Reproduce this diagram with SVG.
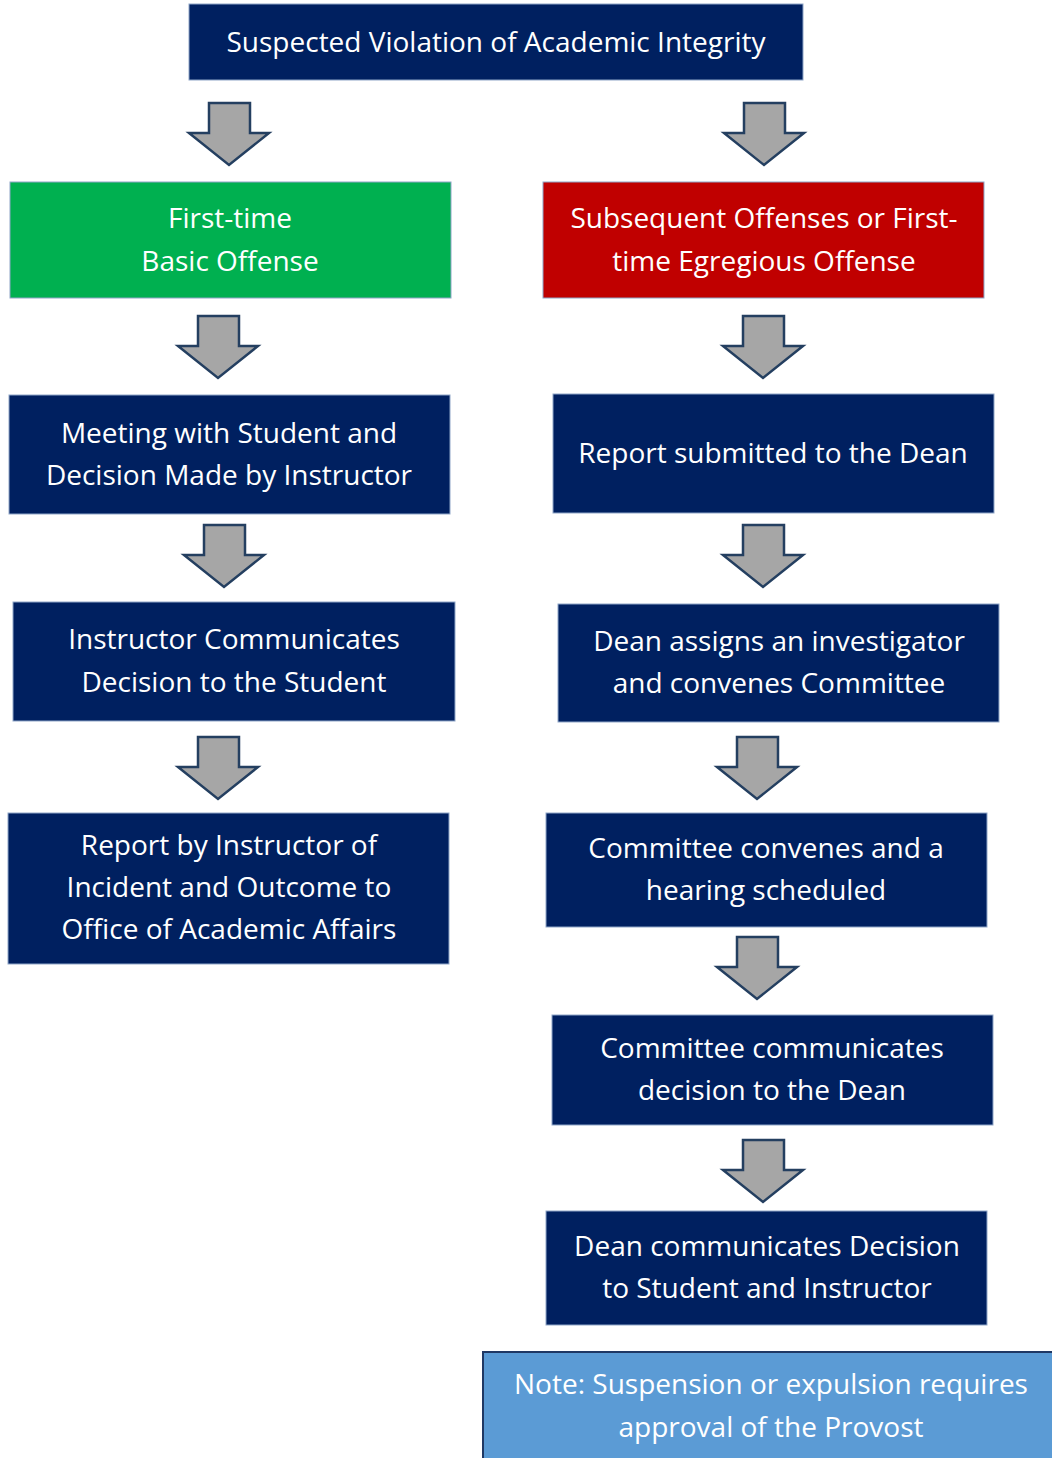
<svg xmlns="http://www.w3.org/2000/svg" width="1052" height="1458" viewBox="0 0 1052 1458">
<defs>
<style>
.box{stroke:#8FA6C8;stroke-width:1}
.navy{fill:#002060}
.green{fill:#00B050}
.red{fill:#C00000}
.note{fill:#5B9BD5;stroke:#1F3864;stroke-width:2}
text{font-family:"Open Sans","Noto Sans","Liberation Sans",sans-serif;font-size:28px;fill:#FFFFFF;text-anchor:middle}
.arrow{fill:#A6A6A6;stroke:#243F60;stroke-width:2.5;stroke-linejoin:miter}
</style>
<path id="arr" class="arrow" d="M-20,0 H21 V30 H40 L0,62 L-40,30 H-20 Z"/>
</defs>
<rect width="1052" height="1458" fill="#FFFFFF"/>
<g id="connectors">
<use href="#arr" x="229" y="103"/>
<use href="#arr" x="764" y="103"/>
<use href="#arr" x="218" y="316"/>
<use href="#arr" x="763" y="316"/>
<use href="#arr" x="224" y="525"/>
<use href="#arr" x="763" y="525"/>
<use href="#arr" x="218" y="737"/>
<use href="#arr" x="757" y="737"/>
<use href="#arr" x="757" y="937"/>
<use href="#arr" x="763" y="1140"/>
</g>
<g id="n-start"><rect class="box navy" x="189" y="4" width="614" height="76"/><text x="496" y="52">Suspected Violation of Academic Integrity</text></g>
<g id="n-basic"><rect class="box green" x="10" y="182" width="441" height="116"/><text x="230" y="228">First-time</text><text x="230" y="271">Basic Offense</text></g>
<g id="n-egregious"><rect class="box red" x="543" y="182" width="441" height="116"/><text x="764" y="228">Subsequent Offenses or First-</text><text x="764" y="271">time Egregious Offense</text></g>
<g id="n-meeting"><rect class="box navy" x="9" y="395" width="441" height="119"/><text x="229" y="443">Meeting with Student and</text><text x="229" y="485">Decision Made by Instructor</text></g>
<g id="n-report-dean"><rect class="box navy" x="553" y="394" width="441" height="119"/><text x="773" y="463">Report submitted to the Dean</text></g>
<g id="n-communicates"><rect class="box navy" x="13" y="602" width="442" height="119"/><text x="234" y="649">Instructor Communicates</text><text x="234" y="692">Decision to the Student</text></g>
<g id="n-investigator"><rect class="box navy" x="558" y="604" width="441" height="118"/><text x="779" y="651">Dean assigns an investigator</text><text x="779" y="693">and convenes Committee</text></g>
<g id="n-report-office"><rect class="box navy" x="8" y="813" width="441" height="151"/><text x="229" y="855">Report by Instructor of</text><text x="229" y="897">Incident and Outcome to</text><text x="229" y="939">Office of Academic Affairs</text></g>
<g id="n-hearing"><rect class="box navy" x="546" y="813" width="441" height="114"/><text x="766" y="858">Committee convenes and a</text><text x="766" y="900">hearing scheduled</text></g>
<g id="n-committee-decision"><rect class="box navy" x="552" y="1015" width="441" height="110"/><text x="772" y="1058">Committee communicates</text><text x="772" y="1100">decision to the Dean</text></g>
<g id="n-dean-decision"><rect class="box navy" x="546" y="1211" width="441" height="114"/><text x="767" y="1256">Dean communicates Decision</text><text x="767" y="1298">to Student and Instructor</text></g>
<g id="n-note"><rect class="note" x="483" y="1352" width="580" height="120"/><text x="771" y="1394">Note: Suspension or expulsion requires</text><text x="771" y="1437">approval of the Provost</text></g>
</svg>
